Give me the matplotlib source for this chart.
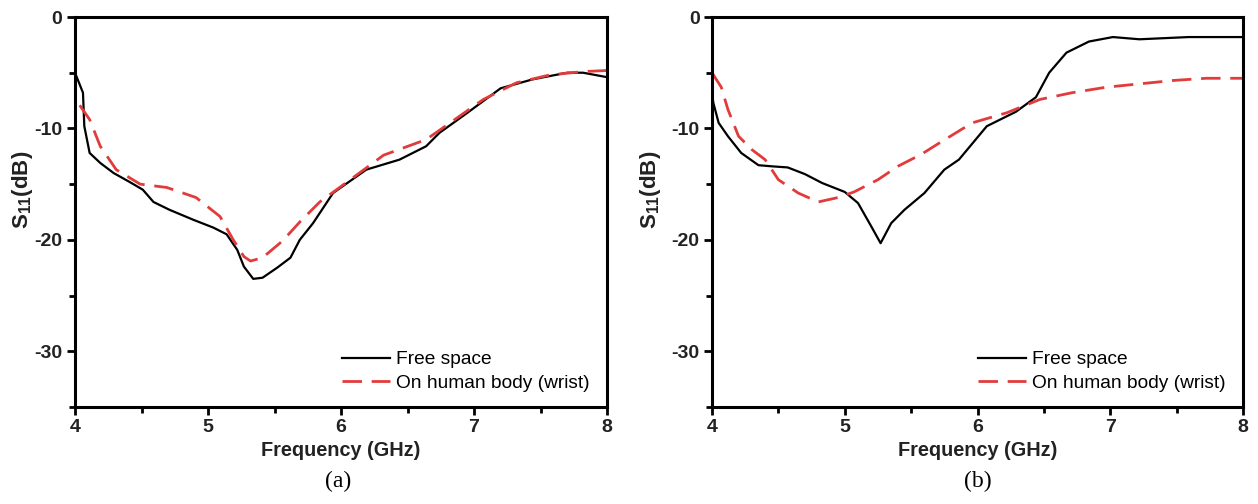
import matplotlib
matplotlib.use("Agg")
import matplotlib.pyplot as plt
from matplotlib.ticker import MultipleLocator

plt.rcParams['font.family'] = ['Liberation Sans', 'DejaVu Sans']
plt.rcParams['mathtext.fontset'] = 'custom'
plt.rcParams['mathtext.bf'] = 'Liberation Sans:bold'
plt.rcParams['mathtext.rm'] = 'Liberation Sans:bold'
plt.rcParams['mathtext.default'] = 'bf'
plt.rcParams['axes.unicode_minus'] = False

# panel (a) - free space
fa_free = [4.0, 4.01, 4.06, 4.07, 4.11, 4.19, 4.29, 4.41, 4.51, 4.59, 4.71, 4.89, 5.04, 5.14,
           5.22, 5.27, 5.34, 5.41, 5.52, 5.62, 5.69, 5.79, 5.94, 6.19, 6.44, 6.64, 6.74, 6.95,
           7.2, 7.44, 7.7, 7.82, 8.0]
sa_free = [-5.0, -5.3, -6.8, -9.8, -12.2, -13.1, -14.0, -14.8, -15.5, -16.6, -17.3, -18.2, -18.9, -19.5,
           -20.9, -22.4, -23.5, -23.4, -22.5, -21.6, -20.0, -18.5, -15.8, -13.7, -12.8, -11.6, -10.4, -8.6,
           -6.4, -5.6, -5.0, -5.0, -5.4]
# panel (a) - on human body
fa_body = [4.0, 4.005, 4.11, 4.19, 4.31, 4.49, 4.69, 4.91, 5.09, 5.19, 5.27, 5.32, 5.41, 5.56,
           5.69, 5.84, 6.07, 6.32, 6.64, 6.82, 7.07, 7.32, 7.57, 7.82, 8.0]
sa_body = [-12.0, -7.4, -9.2, -11.6, -13.7, -15.0, -15.3, -16.2, -17.9, -20.0, -21.5, -21.9, -21.6, -20.1,
           -18.4, -16.6, -14.6, -12.4, -11.0, -9.5, -7.4, -5.9, -5.2, -4.9, -4.8]

# panel (b) - free space
fb_free = [4.0, 4.01, 4.05, 4.12, 4.22, 4.35, 4.45, 4.57, 4.7, 4.83, 5.0, 5.1, 5.2, 5.27, 5.35,
           5.45, 5.6, 5.75, 5.86, 6.07, 6.29, 6.44, 6.54, 6.67, 6.84, 7.02, 7.22, 7.59, 8.0]
sb_free = [-6.8, -7.7, -9.5, -10.7, -12.2, -13.3, -13.4, -13.5, -14.1, -14.9, -15.7, -16.7, -18.8, -20.3, -18.5,
           -17.3, -15.8, -13.7, -12.8, -9.8, -8.5, -7.2, -5.0, -3.2, -2.2, -1.8, -2.0, -1.8, -1.8]
# panel (b) - on human body
fb_body = [4.0, 4.07, 4.12, 4.2, 4.3, 4.4, 4.5, 4.65, 4.8, 4.95, 5.07, 5.25, 5.4, 5.58, 5.7,
           5.96, 6.22, 6.47, 6.71, 6.97, 7.22, 7.47, 7.72, 7.92, 8.0]
sb_body = [-5.0, -6.3, -8.3, -10.7, -11.9, -12.8, -14.6, -15.8, -16.6, -16.2, -15.7, -14.6, -13.4, -12.3, -11.4,
           -9.5, -8.6, -7.4, -6.8, -6.3, -6.0, -5.7, -5.5, -5.5, -5.5]

labels = ['Free space', 'On human body (wrist)']
captions = ['(a)', '(b)']

W, H = 1258, 504
fig = plt.figure(figsize=(W / 100, H / 100), dpi=100)

boxes = [(75, 607), (712, 1243)]
top, bottom = 17, 407
data = [(fa_free, sa_free, fa_body, sa_body), (fb_free, sb_free, fb_body, sb_body)]
cap_x = [338, 978]
ylab_x = [-0.075, -0.092]

for (x0, x1), (f1, s1, f2, s2), cap, cx, lx in zip(boxes, data, captions, cap_x, ylab_x):
    ax = fig.add_axes([x0 / W, 1 - bottom / H, (x1 - x0) / W, (bottom - top) / H])
    ax.plot(f1, s1, color='black', lw=1.6, label=labels[0])
    ax.plot(f2, s2, color='#e23b3b', lw=2.0, dashes=(7, 3.5), label=labels[1])
    ax.set_xlim(4, 8)
    ax.set_ylim(-35, 0)
    ax.xaxis.set_major_locator(MultipleLocator(1))
    ax.xaxis.set_minor_locator(MultipleLocator(0.5))
    ax.yaxis.set_major_locator(MultipleLocator(10))
    ax.yaxis.set_minor_locator(MultipleLocator(5))
    ax.tick_params(which='major', direction='out', length=6, width=2, labelsize=14, pad=3)
    ax.tick_params(which='minor', direction='out', length=4, width=2)
    for lbl in ax.get_xticklabels() + ax.get_yticklabels():
        lbl.set_fontweight('bold')
        lbl.set_color('#222222')
    for sp in ax.spines.values():
        sp.set_linewidth(2.2)
    ax.set_xlabel('Frequency (GHz)', fontsize=14.3, fontweight='bold', color='#222222', labelpad=3)
    ax.set_ylabel('S$_{11}$(dB)', fontsize=16, fontweight='bold', color='#222222')
    ax.yaxis.set_label_coords(lx, 0.556)
    ax.legend(loc='lower right', bbox_to_anchor=(0.985, 0.015), frameon=False, fontsize=13.8,
              handlelength=2.5, handletextpad=0.3, labelspacing=0.3, borderpad=0)
    fig.text(cx / W, 1 - 481 / H, cap, family='Liberation Serif', fontsize=17,
             ha='center', va='center')

fig.savefig('out.png', dpi=100)
